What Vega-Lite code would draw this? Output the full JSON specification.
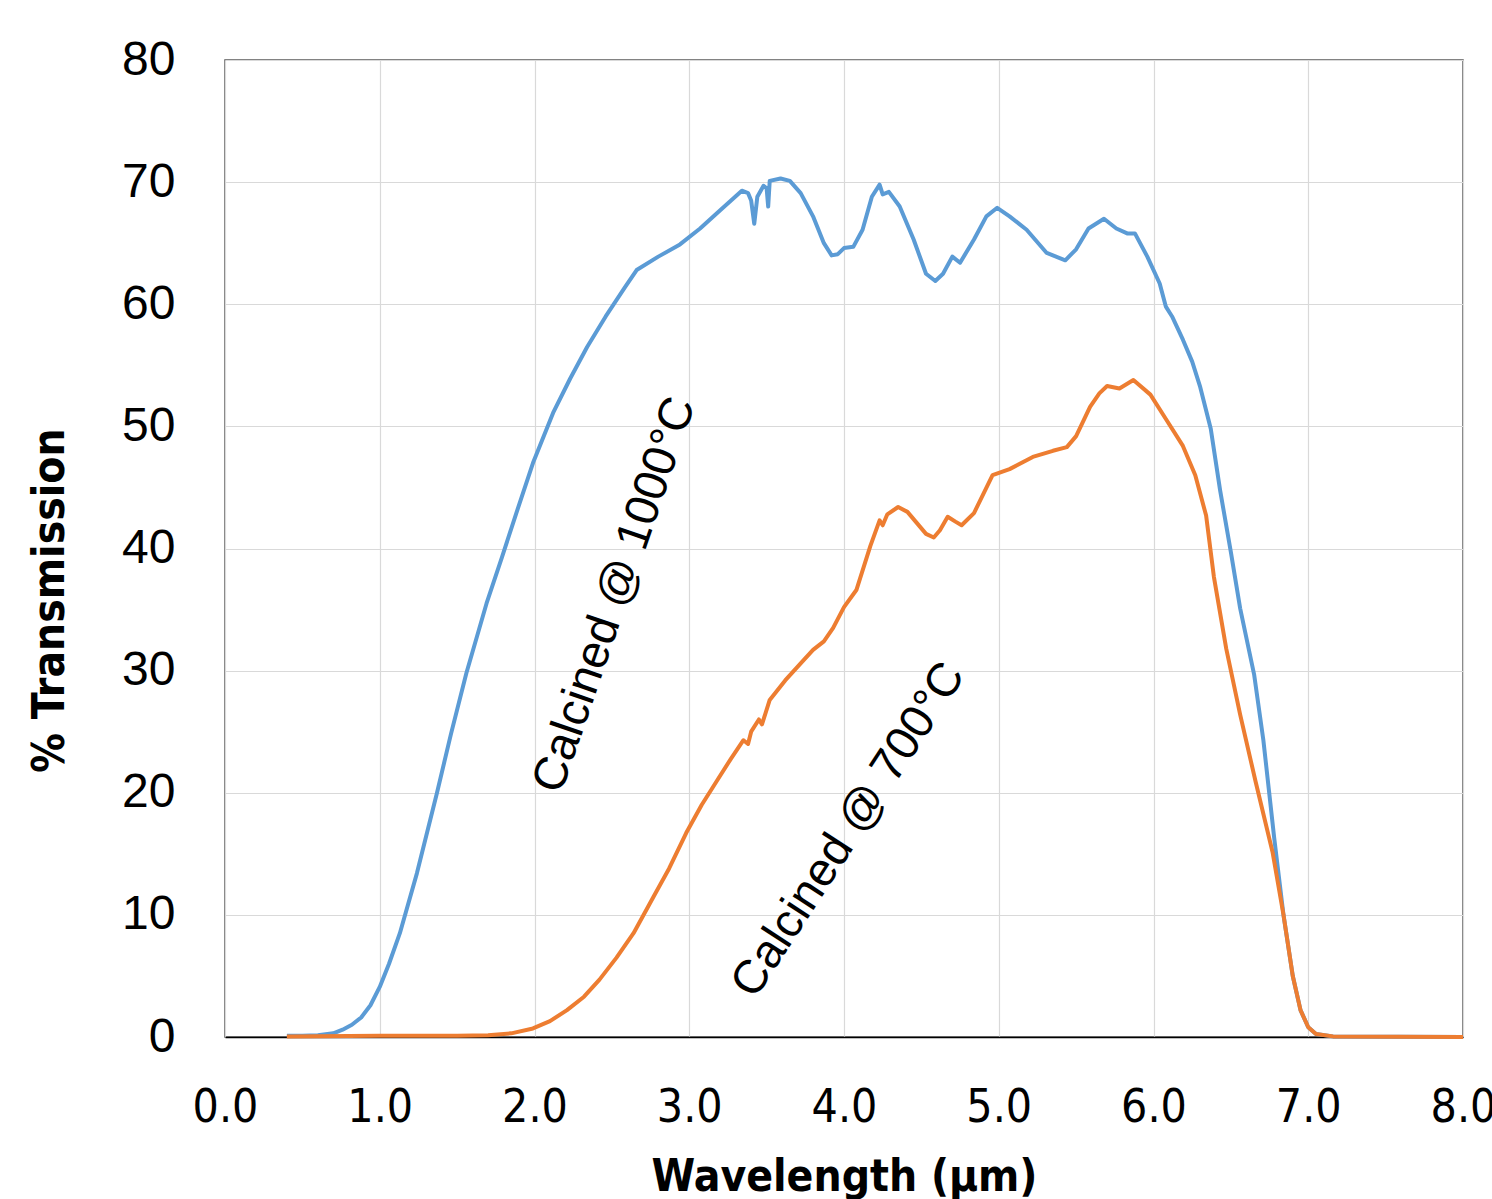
{
  "$schema": "https://vega.github.io/schema/vega-lite/v6.json",
  "autosize": {"type": "none"},
  "width": 1238,
  "height": 977,
  "padding": {"left": 225, "top": 60, "right": 29, "bottom": 162},
  "background": "white",
  "config": {
    "view": {"stroke": "#595959", "strokeWidth": 1.5},
    "axis": {"gridColor": "#d9d9d9", "gridWidth": 1.2, "tickSize": 0, "ticks": false}
  },
  "datasets": {
    "spectra": [
      {"wl": 0.4, "T": 0.1, "sample": "Calcined @ 1000°C"},
      {"wl": 0.5, "T": 0.1, "sample": "Calcined @ 1000°C"},
      {"wl": 0.6, "T": 0.15, "sample": "Calcined @ 1000°C"},
      {"wl": 0.7, "T": 0.3, "sample": "Calcined @ 1000°C"},
      {"wl": 0.76, "T": 0.6, "sample": "Calcined @ 1000°C"},
      {"wl": 0.82, "T": 1.0, "sample": "Calcined @ 1000°C"},
      {"wl": 0.88, "T": 1.6, "sample": "Calcined @ 1000°C"},
      {"wl": 0.94, "T": 2.6, "sample": "Calcined @ 1000°C"},
      {"wl": 1.0, "T": 4.1, "sample": "Calcined @ 1000°C"},
      {"wl": 1.06, "T": 6.0, "sample": "Calcined @ 1000°C"},
      {"wl": 1.13, "T": 8.5, "sample": "Calcined @ 1000°C"},
      {"wl": 1.24, "T": 13.4, "sample": "Calcined @ 1000°C"},
      {"wl": 1.37, "T": 20.0, "sample": "Calcined @ 1000°C"},
      {"wl": 1.46, "T": 24.8, "sample": "Calcined @ 1000°C"},
      {"wl": 1.56, "T": 29.8, "sample": "Calcined @ 1000°C"},
      {"wl": 1.69, "T": 35.5, "sample": "Calcined @ 1000°C"},
      {"wl": 1.79, "T": 39.3, "sample": "Calcined @ 1000°C"},
      {"wl": 1.88, "T": 42.8, "sample": "Calcined @ 1000°C"},
      {"wl": 1.99, "T": 47.0, "sample": "Calcined @ 1000°C"},
      {"wl": 2.12, "T": 51.1, "sample": "Calcined @ 1000°C"},
      {"wl": 2.23, "T": 53.9, "sample": "Calcined @ 1000°C"},
      {"wl": 2.34, "T": 56.5, "sample": "Calcined @ 1000°C"},
      {"wl": 2.46, "T": 59.0, "sample": "Calcined @ 1000°C"},
      {"wl": 2.585, "T": 61.4, "sample": "Calcined @ 1000°C"},
      {"wl": 2.66, "T": 62.8, "sample": "Calcined @ 1000°C"},
      {"wl": 2.8, "T": 63.9, "sample": "Calcined @ 1000°C"},
      {"wl": 2.94, "T": 64.9, "sample": "Calcined @ 1000°C"},
      {"wl": 3.07, "T": 66.2, "sample": "Calcined @ 1000°C"},
      {"wl": 3.2, "T": 67.7, "sample": "Calcined @ 1000°C"},
      {"wl": 3.34, "T": 69.3, "sample": "Calcined @ 1000°C"},
      {"wl": 3.38, "T": 69.1, "sample": "Calcined @ 1000°C"},
      {"wl": 3.4, "T": 68.5, "sample": "Calcined @ 1000°C"},
      {"wl": 3.42, "T": 66.6, "sample": "Calcined @ 1000°C"},
      {"wl": 3.44, "T": 68.8, "sample": "Calcined @ 1000°C"},
      {"wl": 3.48, "T": 69.7, "sample": "Calcined @ 1000°C"},
      {"wl": 3.5, "T": 69.5, "sample": "Calcined @ 1000°C"},
      {"wl": 3.51, "T": 68.0, "sample": "Calcined @ 1000°C"},
      {"wl": 3.52, "T": 70.1, "sample": "Calcined @ 1000°C"},
      {"wl": 3.59, "T": 70.3, "sample": "Calcined @ 1000°C"},
      {"wl": 3.65, "T": 70.1, "sample": "Calcined @ 1000°C"},
      {"wl": 3.72, "T": 69.1, "sample": "Calcined @ 1000°C"},
      {"wl": 3.8, "T": 67.2, "sample": "Calcined @ 1000°C"},
      {"wl": 3.87, "T": 65.0, "sample": "Calcined @ 1000°C"},
      {"wl": 3.92, "T": 64.0, "sample": "Calcined @ 1000°C"},
      {"wl": 3.96, "T": 64.1, "sample": "Calcined @ 1000°C"},
      {"wl": 4.0, "T": 64.6, "sample": "Calcined @ 1000°C"},
      {"wl": 4.06, "T": 64.7, "sample": "Calcined @ 1000°C"},
      {"wl": 4.12, "T": 66.1, "sample": "Calcined @ 1000°C"},
      {"wl": 4.18, "T": 68.8, "sample": "Calcined @ 1000°C"},
      {"wl": 4.23, "T": 69.8, "sample": "Calcined @ 1000°C"},
      {"wl": 4.25, "T": 69.0, "sample": "Calcined @ 1000°C"},
      {"wl": 4.29, "T": 69.2, "sample": "Calcined @ 1000°C"},
      {"wl": 4.36, "T": 68.0, "sample": "Calcined @ 1000°C"},
      {"wl": 4.45, "T": 65.3, "sample": "Calcined @ 1000°C"},
      {"wl": 4.53, "T": 62.5, "sample": "Calcined @ 1000°C"},
      {"wl": 4.59, "T": 61.9, "sample": "Calcined @ 1000°C"},
      {"wl": 4.64, "T": 62.5, "sample": "Calcined @ 1000°C"},
      {"wl": 4.7, "T": 63.9, "sample": "Calcined @ 1000°C"},
      {"wl": 4.75, "T": 63.4, "sample": "Calcined @ 1000°C"},
      {"wl": 4.84, "T": 65.3, "sample": "Calcined @ 1000°C"},
      {"wl": 4.92, "T": 67.2, "sample": "Calcined @ 1000°C"},
      {"wl": 4.99, "T": 67.9, "sample": "Calcined @ 1000°C"},
      {"wl": 5.07, "T": 67.2, "sample": "Calcined @ 1000°C"},
      {"wl": 5.18, "T": 66.1, "sample": "Calcined @ 1000°C"},
      {"wl": 5.31, "T": 64.2, "sample": "Calcined @ 1000°C"},
      {"wl": 5.43, "T": 63.6, "sample": "Calcined @ 1000°C"},
      {"wl": 5.5, "T": 64.5, "sample": "Calcined @ 1000°C"},
      {"wl": 5.58, "T": 66.2, "sample": "Calcined @ 1000°C"},
      {"wl": 5.68, "T": 67.0, "sample": "Calcined @ 1000°C"},
      {"wl": 5.76, "T": 66.2, "sample": "Calcined @ 1000°C"},
      {"wl": 5.83, "T": 65.8, "sample": "Calcined @ 1000°C"},
      {"wl": 5.88, "T": 65.8, "sample": "Calcined @ 1000°C"},
      {"wl": 5.96, "T": 63.9, "sample": "Calcined @ 1000°C"},
      {"wl": 6.04, "T": 61.7, "sample": "Calcined @ 1000°C"},
      {"wl": 6.08, "T": 59.8, "sample": "Calcined @ 1000°C"},
      {"wl": 6.12, "T": 59.0, "sample": "Calcined @ 1000°C"},
      {"wl": 6.19, "T": 57.1, "sample": "Calcined @ 1000°C"},
      {"wl": 6.25, "T": 55.3, "sample": "Calcined @ 1000°C"},
      {"wl": 6.3, "T": 53.3, "sample": "Calcined @ 1000°C"},
      {"wl": 6.37, "T": 49.8, "sample": "Calcined @ 1000°C"},
      {"wl": 6.43, "T": 44.8, "sample": "Calcined @ 1000°C"},
      {"wl": 6.5, "T": 39.7, "sample": "Calcined @ 1000°C"},
      {"wl": 6.56, "T": 35.1, "sample": "Calcined @ 1000°C"},
      {"wl": 6.65, "T": 29.7, "sample": "Calcined @ 1000°C"},
      {"wl": 6.71, "T": 24.3, "sample": "Calcined @ 1000°C"},
      {"wl": 6.78, "T": 16.3, "sample": "Calcined @ 1000°C"},
      {"wl": 6.84, "T": 10.0, "sample": "Calcined @ 1000°C"},
      {"wl": 6.9, "T": 5.0, "sample": "Calcined @ 1000°C"},
      {"wl": 6.95, "T": 2.2, "sample": "Calcined @ 1000°C"},
      {"wl": 7.0, "T": 0.8, "sample": "Calcined @ 1000°C"},
      {"wl": 7.05, "T": 0.25, "sample": "Calcined @ 1000°C"},
      {"wl": 7.16, "T": 0.05, "sample": "Calcined @ 1000°C"},
      {"wl": 8.0, "T": 0.0, "sample": "Calcined @ 1000°C"},
      {"wl": 0.4, "T": 0.05, "sample": "Calcined @ 700°C"},
      {"wl": 1.0, "T": 0.1, "sample": "Calcined @ 700°C"},
      {"wl": 1.5, "T": 0.1, "sample": "Calcined @ 700°C"},
      {"wl": 1.7, "T": 0.15, "sample": "Calcined @ 700°C"},
      {"wl": 1.85, "T": 0.3, "sample": "Calcined @ 700°C"},
      {"wl": 1.99, "T": 0.7, "sample": "Calcined @ 700°C"},
      {"wl": 2.1, "T": 1.3, "sample": "Calcined @ 700°C"},
      {"wl": 2.21, "T": 2.2, "sample": "Calcined @ 700°C"},
      {"wl": 2.32, "T": 3.3, "sample": "Calcined @ 700°C"},
      {"wl": 2.42, "T": 4.7, "sample": "Calcined @ 700°C"},
      {"wl": 2.53, "T": 6.5, "sample": "Calcined @ 700°C"},
      {"wl": 2.64, "T": 8.5, "sample": "Calcined @ 700°C"},
      {"wl": 2.77, "T": 11.5, "sample": "Calcined @ 700°C"},
      {"wl": 2.87, "T": 13.8, "sample": "Calcined @ 700°C"},
      {"wl": 2.98, "T": 16.7, "sample": "Calcined @ 700°C"},
      {"wl": 3.08, "T": 19.0, "sample": "Calcined @ 700°C"},
      {"wl": 3.18, "T": 21.0, "sample": "Calcined @ 700°C"},
      {"wl": 3.27, "T": 22.8, "sample": "Calcined @ 700°C"},
      {"wl": 3.35, "T": 24.3, "sample": "Calcined @ 700°C"},
      {"wl": 3.38, "T": 24.0, "sample": "Calcined @ 700°C"},
      {"wl": 3.4, "T": 25.0, "sample": "Calcined @ 700°C"},
      {"wl": 3.45, "T": 26.0, "sample": "Calcined @ 700°C"},
      {"wl": 3.47, "T": 25.6, "sample": "Calcined @ 700°C"},
      {"wl": 3.52, "T": 27.6, "sample": "Calcined @ 700°C"},
      {"wl": 3.62, "T": 29.2, "sample": "Calcined @ 700°C"},
      {"wl": 3.72, "T": 30.6, "sample": "Calcined @ 700°C"},
      {"wl": 3.8, "T": 31.7, "sample": "Calcined @ 700°C"},
      {"wl": 3.87, "T": 32.4, "sample": "Calcined @ 700°C"},
      {"wl": 3.93, "T": 33.5, "sample": "Calcined @ 700°C"},
      {"wl": 4.0, "T": 35.2, "sample": "Calcined @ 700°C"},
      {"wl": 4.08, "T": 36.6, "sample": "Calcined @ 700°C"},
      {"wl": 4.17, "T": 40.2, "sample": "Calcined @ 700°C"},
      {"wl": 4.23, "T": 42.3, "sample": "Calcined @ 700°C"},
      {"wl": 4.25, "T": 41.9, "sample": "Calcined @ 700°C"},
      {"wl": 4.28, "T": 42.8, "sample": "Calcined @ 700°C"},
      {"wl": 4.35, "T": 43.4, "sample": "Calcined @ 700°C"},
      {"wl": 4.41, "T": 43.0, "sample": "Calcined @ 700°C"},
      {"wl": 4.47, "T": 42.1, "sample": "Calcined @ 700°C"},
      {"wl": 4.53, "T": 41.2, "sample": "Calcined @ 700°C"},
      {"wl": 4.58, "T": 40.9, "sample": "Calcined @ 700°C"},
      {"wl": 4.62, "T": 41.5, "sample": "Calcined @ 700°C"},
      {"wl": 4.67, "T": 42.6, "sample": "Calcined @ 700°C"},
      {"wl": 4.72, "T": 42.2, "sample": "Calcined @ 700°C"},
      {"wl": 4.76, "T": 41.9, "sample": "Calcined @ 700°C"},
      {"wl": 4.84, "T": 42.9, "sample": "Calcined @ 700°C"},
      {"wl": 4.96, "T": 46.0, "sample": "Calcined @ 700°C"},
      {"wl": 5.07, "T": 46.5, "sample": "Calcined @ 700°C"},
      {"wl": 5.22, "T": 47.5, "sample": "Calcined @ 700°C"},
      {"wl": 5.35, "T": 48.0, "sample": "Calcined @ 700°C"},
      {"wl": 5.44, "T": 48.3, "sample": "Calcined @ 700°C"},
      {"wl": 5.5, "T": 49.2, "sample": "Calcined @ 700°C"},
      {"wl": 5.59, "T": 51.6, "sample": "Calcined @ 700°C"},
      {"wl": 5.65, "T": 52.7, "sample": "Calcined @ 700°C"},
      {"wl": 5.7, "T": 53.3, "sample": "Calcined @ 700°C"},
      {"wl": 5.78, "T": 53.1, "sample": "Calcined @ 700°C"},
      {"wl": 5.87, "T": 53.8, "sample": "Calcined @ 700°C"},
      {"wl": 5.98, "T": 52.6, "sample": "Calcined @ 700°C"},
      {"wl": 6.08, "T": 50.6, "sample": "Calcined @ 700°C"},
      {"wl": 6.19, "T": 48.4, "sample": "Calcined @ 700°C"},
      {"wl": 6.27, "T": 46.0, "sample": "Calcined @ 700°C"},
      {"wl": 6.34, "T": 42.7, "sample": "Calcined @ 700°C"},
      {"wl": 6.39, "T": 37.7, "sample": "Calcined @ 700°C"},
      {"wl": 6.47, "T": 31.8, "sample": "Calcined @ 700°C"},
      {"wl": 6.56, "T": 26.4, "sample": "Calcined @ 700°C"},
      {"wl": 6.66, "T": 20.9, "sample": "Calcined @ 700°C"},
      {"wl": 6.77, "T": 15.1, "sample": "Calcined @ 700°C"},
      {"wl": 6.84, "T": 10.0, "sample": "Calcined @ 700°C"},
      {"wl": 6.9, "T": 5.0, "sample": "Calcined @ 700°C"},
      {"wl": 6.95, "T": 2.2, "sample": "Calcined @ 700°C"},
      {"wl": 7.0, "T": 0.8, "sample": "Calcined @ 700°C"},
      {"wl": 7.05, "T": 0.25, "sample": "Calcined @ 700°C"},
      {"wl": 7.16, "T": 0.05, "sample": "Calcined @ 700°C"},
      {"wl": 8.0, "T": 0.0, "sample": "Calcined @ 700°C"}
    ],
    "labels": [
      {"wl": 2.52, "T": 36.2, "label": "Calcined @ 1000°C"},
      {"wl": 4.03, "T": 16.95, "label": "Calcined @ 700°C"}
    ]
  },
  "layer": [
    {
      "data": {"name": "spectra"},
      "mark": {"type": "line", "strokeWidth": 4, "strokeJoin": "round"},
      "encoding": {
        "x": {
          "field": "wl", "type": "quantitative",
          "scale": {"domain": [0, 8], "nice": false},
          "axis": {
            "title": "Wavelength (µm)",
            "values": [0, 1, 2, 3, 4, 5, 6, 7, 8],
            "format": ".1f",
            "labelFont": "DejaVu Sans Condensed, Liberation Sans",
            "labelFontSize": 46,
            "labelColor": "black",
            "labelBaseline": "middle",
            "labelPadding": 70,
            "labelFlush": false,
            "labelOverlap": false,
            "domainColor": "black",
            "domainWidth": 1.5,
            "titleFont": "DejaVu Sans Condensed, Liberation Sans",
            "titleFontSize": 44,
            "titleFontWeight": "bold",
            "titleColor": "black",
            "titleBaseline": "middle",
            "titleY": 140
          }
        },
        "y": {
          "field": "T", "type": "quantitative",
          "scale": {"domain": [0, 80], "nice": false},
          "axis": {
            "title": "% Transmission",
            "values": [0, 10, 20, 30, 40, 50, 60, 70, 80],
            "labelFont": "Liberation Sans",
            "labelFontSize": 48,
            "labelColor": "black",
            "labelPadding": 50,
            "labelFlush": false,
            "domain": false,
            "titleFont": "DejaVu Sans Condensed, Liberation Sans",
            "titleFontSize": 44,
            "titleFontWeight": "bold",
            "titleColor": "black",
            "titleBaseline": "middle",
            "titleAlign": "center",
            "titleX": -175,
            "titleY": 540
          }
        },
        "color": {
          "field": "sample", "type": "nominal",
          "scale": {"domain": ["Calcined @ 1000°C", "Calcined @ 700°C"], "range": ["#5B9BD5", "#ED7D31"]},
          "legend": null
        }
      }
    },
    {
      "data": {"name": "labels"},
      "transform": [{"filter": "datum.label === 'Calcined @ 1000°C'"}],
      "mark": {"type": "text", "angle": -71, "font": "Liberation Sans", "fontSize": 47, "align": "center", "baseline": "middle", "color": "black"},
      "encoding": {
        "x": {"field": "wl", "type": "quantitative"},
        "y": {"field": "T", "type": "quantitative"},
        "text": {"field": "label"}
      }
    },
    {
      "data": {"name": "labels"},
      "transform": [{"filter": "datum.label === 'Calcined @ 700°C'"}],
      "mark": {"type": "text", "angle": -57, "font": "Liberation Sans", "fontSize": 47, "align": "center", "baseline": "middle", "color": "black"},
      "encoding": {
        "x": {"field": "wl", "type": "quantitative"},
        "y": {"field": "T", "type": "quantitative"},
        "text": {"field": "label"}
      }
    }
  ]
}
